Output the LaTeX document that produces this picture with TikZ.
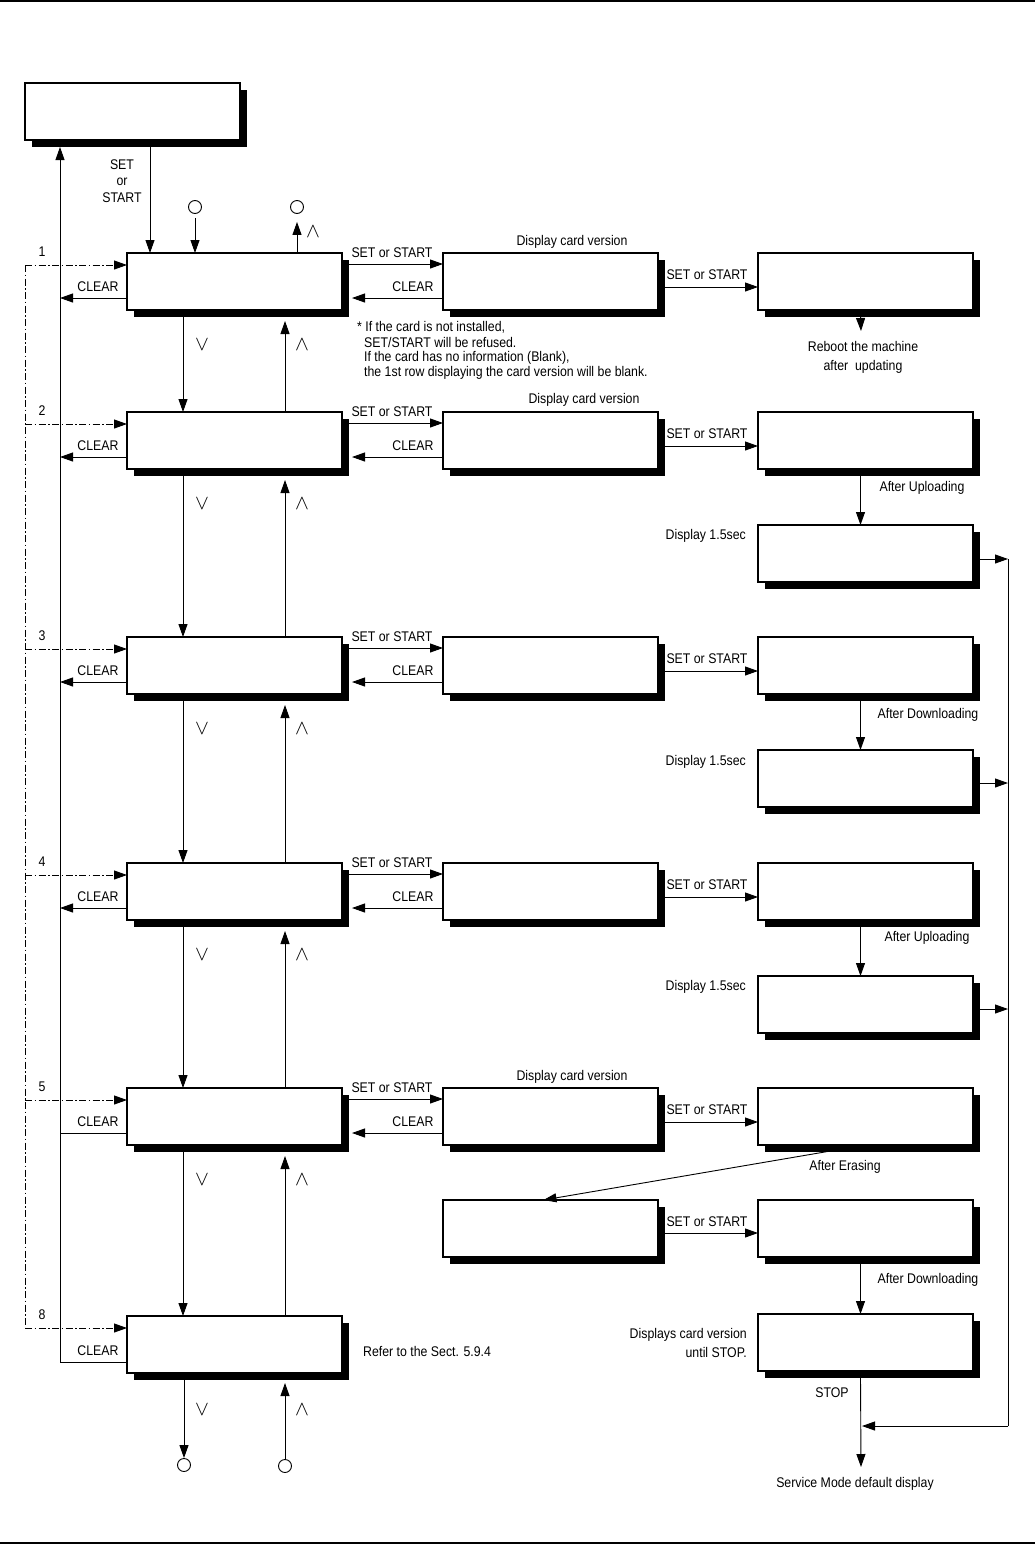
\documentclass[tikz,border=0pt]{standalone}
\usepackage{fontspec}
\setmainfont{Liberation Sans}[FakeStretch=0.88]
\usetikzlibrary{arrows.meta,shadows}
\begin{document}
\begin{tikzpicture}[x=1pt,y=-1pt,
  font=\fontsize{14}{15.5}\selectfont,
  box/.style={draw, line width=1.5pt, fill=white, minimum width=215pt, minimum height=57pt,
    anchor=north west, inner sep=0pt, outer sep=0pt,
    drop shadow={shadow xshift=6.5pt, shadow yshift=-6.5pt, fill=black, opacity=1}},
  arr/.style={line width=0.9pt, -{Triangle[length=13pt,width=9pt]}},
  ln/.style={line width=0.9pt},
  ddl/.style={line width=0.9pt, dash pattern=on 7pt off 2.5pt on 1.5pt off 2.5pt},
  dd/.style={ddl, -{Triangle[length=13pt,width=9pt]}},
  lbl/.style={inner sep=0pt},
  vlbl/.style={inner sep=0pt, font=\fontsize{22}{22}\selectfont},
  circ/.style={circle, draw, line width=0.9pt, minimum size=13pt, inner sep=0pt},
]
\useasboundingbox (0,0) rectangle (1035,1545);
% page rules
\coordinate (tl) at (0,1); \coordinate (tr) at (1035,1);
\coordinate (bl) at (0,1543); \coordinate (br) at (1035,1543);
\draw[line width=1.6pt] (tl) -- (tr);
\draw[line width=1.6pt] (bl) -- (br);

% boxes
\node[box] (top) at (25,83) {};
\node[box] (m1) at (127,253) {};
\node[box] (m2) at (127,412) {};
\node[box] (m3) at (127,637) {};
\node[box] (m4) at (127,863) {};
\node[box] (m5) at (127,1088) {};
\node[box] (m8) at (127,1316) {};
\node[box] (c1) at (443,253) {};
\node[box] (c2) at (443,412) {};
\node[box] (c3) at (443,637) {};
\node[box] (c4) at (443,863) {};
\node[box] (c5) at (443,1088) {};
\node[box] (lm) at (443,1200) {};
\node[box] (r1) at (758,253) {};
\node[box] (r2) at (758,412) {};
\node[box] (d2) at (758,525) {};
\node[box] (r3) at (758,637) {};
\node[box] (d3) at (758,750) {};
\node[box] (r4) at (758,863) {};
\node[box] (d4) at (758,976) {};
\node[box] (r5) at (758,1088) {};
\node[box] (lr) at (758,1200) {};
\node[box] (fin) at (758,1314) {};

% circles
\node[circ] (ci1) at (195,207) {};
\node[circ] (co1) at (297,207) {};
\node[circ] (cb1) at (184,1465) {};
\node[circ] (cb2) at (285,1466) {};

% top -> m1
\draw[arr] ([xshift=125pt,yshift=-6pt]top.south west) -- ([xshift=23pt]m1.north west);
\node[lbl, align=center, font=\fontsize{14}{16.5}\selectfont] (setlbl) at (122,181) {SET\\or\\START};
\draw[arr, shorten <=4pt] (ci1) -- ([xshift=68pt]m1.north west);
\draw[arr, shorten >=8pt] ([xshift=170pt]m1.north west) -- (co1);
\node[vlbl] (up0) at (313,232) {$\wedge$};

% vertical links between main boxes
\foreach \a/\b in {m1/m2,m2/m3,m3/m4,m4/m5,m5/m8}{
  \draw[arr] ([xshift=56pt,yshift=-6pt]\a.south west) -- ([xshift=56pt]\b.north west);
  \draw[arr] ([xshift=158pt]\b.north west) -- ([xshift=158pt,yshift=-11pt]\a.south west);
  \node[vlbl] at ([xshift=75pt,yshift=-35pt]\a.south west) {$\vee$};
  \node[vlbl] at ([xshift=175pt,yshift=-35pt]\a.south west) {$\wedge$};
}
\draw[arr] ([xshift=57pt,yshift=-6pt]m8.south west) -- (cb1);
\draw[arr] (cb2) -- ([xshift=158pt,yshift=-10pt]m8.south west);
\node[vlbl] (dnb) at (202,1410) {$\vee$};
\node[vlbl] (upb) at (302,1410) {$\wedge$};

% left CLEAR bus
\coordinate (busTop) at (60,147);
\coordinate (B1) at (60,298);
\coordinate (B2) at (60,457);
\coordinate (B3) at (60,682);
\coordinate (B4) at (60,908);
\coordinate (B5) at (60,1133);
\coordinate (busBot) at (60,1362);
\draw[ln] ([yshift=-46pt]m8.north west) -- (busBot);
\draw[arr] (busBot) -- (busTop);
\draw[arr] ([yshift=-45pt]m1.north west) -- (B1);
\draw[arr] ([yshift=-45pt]m2.north west) -- (B2);
\draw[arr] ([yshift=-45pt]m3.north west) -- (B3);
\draw[arr] ([yshift=-45pt]m4.north west) -- (B4);
\draw[ln] ([yshift=-45pt]m5.north west) -- (B5);
\foreach \y in {287,446,671,897,1122,1351}{ \node[lbl] at (98,\y) {CLEAR}; }

% dash-dot entries
\coordinate (D1) at (25,265);
\coordinate (D2) at (25,424);
\coordinate (D3) at (25,649);
\coordinate (D4) at (25,875);
\coordinate (D5) at (25,1100);
\coordinate (D8) at (25,1328);
\draw[ddl] (D1) -- (D8);
\draw[dd] (D1) -- ([yshift=-12pt]m1.north west);
\draw[dd] (D2) -- ([yshift=-12pt]m2.north west);
\draw[dd] (D3) -- ([yshift=-12pt]m3.north west);
\draw[dd] (D4) -- ([yshift=-12pt]m4.north west);
\draw[dd] (D5) -- ([yshift=-12pt]m5.north west);
\draw[dd] (D8) -- ([yshift=-12pt]m8.north west);
\node[lbl] at (42,252) {1};
\node[lbl] at (42,411) {2};
\node[lbl] at (42,636) {3};
\node[lbl] at (42,862) {4};
\node[lbl] at (42,1087) {5};
\node[lbl] at (42,1315) {8};

% main <-> middle
\foreach \m/\c/\t in {m1/c1/253,m2/c2/412,m3/c3/637,m4/c4/863,m5/c5/1088}{
  \draw[arr] ([yshift=-11pt]\m.north east) -- ([yshift=-11pt]\c.north west);
  \draw[arr] ([yshift=-45pt]\c.north west) -- ([xshift=10pt,yshift=-45pt]\m.north east);
  \node[lbl] at (392,\t) {SET or START};
  \node[lbl] at (413,\t+34) {CLEAR};
}
% middle -> right
\foreach \c/\r/\t in {c1/r1/253,c2/r2/412,c3/r3/637,c4/r4/863,c5/r5/1088}{
  \draw[arr] ([yshift=-34pt]\c.north east) -- ([yshift=-34pt]\r.north west);
  \node[lbl] at (707,\t+22) {SET or START};
}
\draw[arr] ([yshift=-33pt]lm.north east) -- ([yshift=-33pt]lr.north west);
\node[lbl] at (707,1222) {SET or START};

\node[lbl] at (572,242) {Display card version};
\node[lbl] at (584,400) {Display card version};
\node[lbl] at (572,1077) {Display card version};

% note
\node[lbl, anchor=west] at (357,327) {* If the card is not installed,};
\node[lbl, anchor=west] at (364,342) {SET/START will be refused.};
\node[lbl, anchor=west] at (364,358) {If the card has no information (Blank),};
\node[lbl, anchor=west] at (364,373) {the 1st row displaying the card version will be blank.};

% right column
\coordinate (reb) at (861,331);
\draw[arr] ([xshift=-5pt,yshift=-6pt]r1.south) -- (reb);
\node[lbl, align=center, font=\fontsize{14}{19}\selectfont] at (863,357) {Reboot the machine\\after\ \ updating};

\draw[arr] ([xshift=-5pt,yshift=-6pt]r2.south) -- ([xshift=-5pt]d2.north);
\draw[arr] ([xshift=-5pt,yshift=-6pt]r3.south) -- ([xshift=-5pt]d3.north);
\draw[arr] ([xshift=-5pt,yshift=-6pt]r4.south) -- ([xshift=-5pt]d4.north);
\draw[arr] ([xshift=-5pt,yshift=-6pt]lr.south) -- ([xshift=-5pt]fin.north);
\draw[arr] ([xshift=-35pt,yshift=-6pt]r5.south) -- ([xshift=-7pt]lm.north);

\node[lbl] at (922,488) {After Uploading};
\node[lbl] at (928,715) {After Downloading};
\node[lbl] at (927,938) {After Uploading};
\node[lbl] at (845,1167) {After Erasing};
\node[lbl] at (928,1280) {After Downloading};
\node[lbl, anchor=east] at (746,536) {Display 1.5sec};
\node[lbl, anchor=east] at (746,762) {Display 1.5sec};
\node[lbl, anchor=east] at (746,987) {Display 1.5sec};
\node[lbl, anchor=east, align=right, font=\fontsize{14}{19}\selectfont] at (747,1343) {Displays card version\\until STOP.};

% right bus
\coordinate (R2) at (1008,559);
\coordinate (R3) at (1008,783);
\coordinate (R4) at (1008,1009);
\coordinate (Rb) at (1008,1426);
\coordinate (merge) at (862,1426);
\coordinate (sm) at (861,1467);
\draw[arr] ([yshift=-34pt]d2.north east) -- (R2);
\draw[arr] ([yshift=-33pt]d3.north east) -- (R3);
\draw[arr] ([yshift=-33pt]d4.north east) -- (R4);
\draw[ln] (R2) -- (Rb);
\draw[arr] (Rb) -- (merge);
\draw[arr] ([xshift=-5pt,yshift=-6pt]fin.south) -- (sm);
\node[lbl] at (832,1393) {STOP};
\node[lbl] at (855,1484) {Service Mode default display};
\node[lbl, anchor=west] at (363,1351) {Refer to the Sect. 5.9.4};
\end{tikzpicture}
\end{document}
